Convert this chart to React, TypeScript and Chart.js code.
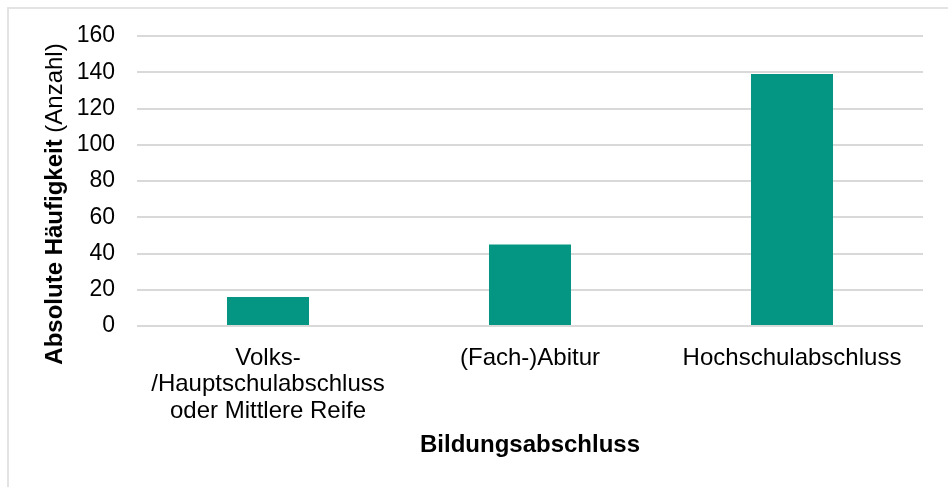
import React, { useEffect, useRef } from "react";
import { Chart, registerables } from "chart.js";

Chart.register(...registerables);

const categories: (string | string[])[] = [
  ["Volks-", "/Hauptschulabschluss", "oder Mittlere Reife"],
  "(Fach-)Abitur",
  "Hochschulabschluss",
];
const values: number[] = [16, 45, 139];
const yTitleBold = "Absolute Häufigkeit";
const yTitleNormal = " (Anzahl)";
const xTitle = "Bildungsabschluss";

const FONT = "'Liberation Sans', Arial, sans-serif";

const titlesPlugin = {
  id: "titlesPlugin",
  afterDraw(chart: any) {
    const ctx = chart.ctx;
    const area = chart.chartArea;
    ctx.save();
    ctx.fillStyle = "#000";
    ctx.font = `bold 24px ${FONT}`;
    ctx.textAlign = "center";
    ctx.textBaseline = "middle";
    ctx.fillText(xTitle, (area.left + area.right) / 2, area.bottom + 119);
    ctx.translate(55, 204);
    ctx.rotate(-Math.PI / 2);
    ctx.font = `bold 24px ${FONT}`;
    const w1 = ctx.measureText(yTitleBold).width;
    ctx.font = `24px ${FONT}`;
    const w2 = ctx.measureText(yTitleNormal).width;
    const start = -(w1 + w2) / 2;
    ctx.textAlign = "left";
    ctx.font = `bold 24px ${FONT}`;
    ctx.fillText(yTitleBold, start, 0);
    ctx.font = `24px ${FONT}`;
    ctx.fillText(yTitleNormal, start + w1, 0);
    ctx.restore();
  },
};

export default function App() {
  const ref = useRef<HTMLCanvasElement>(null);
  useEffect(() => {
    if (!ref.current) return;
    const chart = new Chart(ref.current, {
      type: "bar",
      data: {
        labels: categories,
        datasets: [
          {
            data: values,
            backgroundColor: "#049682",
            categoryPercentage: 1,
            barPercentage: 0.313,
          },
        ],
      },
      options: {
        animation: false,
        responsive: false,
        maintainAspectRatio: false,
        layout: { padding: { top: 36, right: 25, left: 0, bottom: 0 } },
        plugins: { legend: { display: false }, tooltip: { enabled: false } },
        scales: {
          x: {
            grid: { display: false, drawTicks: false },
            border: { display: false },
            ticks: {
              color: "#000",
              font: { family: FONT, size: 24, lineHeight: 1.1 },
              padding: 19,
              maxRotation: 0,
              autoSkip: false,
            },
            afterFit: (s: any) => {
              s.height = 161;
            },
          },
          y: {
            min: 0,
            max: 160,
            grid: { color: "#d9d9d9", lineWidth: 2, drawTicks: false },
            border: { display: false },
            ticks: {
              stepSize: 20,
              color: "#000",
              font: { family: FONT, size: 23 },
              padding: 22,
            },
            afterFit: (s: any) => {
              s.width = 137;
            },
          },
        },
      },
      plugins: [titlesPlugin],
    });
    return () => chart.destroy();
  }, []);
  return (
    <div style={{ position: "fixed", left: 0, top: 0, width: 948, height: 487, background: "#fff" }}>
      <div
        style={{
          position: "absolute",
          left: 7,
          top: 7,
          width: 941,
          height: 480,
          borderTop: "2px solid #e3e3e3",
          borderLeft: "2px solid #e3e3e3",
          boxSizing: "border-box",
        }}
      />
      <canvas ref={ref} width={948} height={487} style={{ position: "absolute", left: 0, top: 0 }} />
    </div>
  );
}
